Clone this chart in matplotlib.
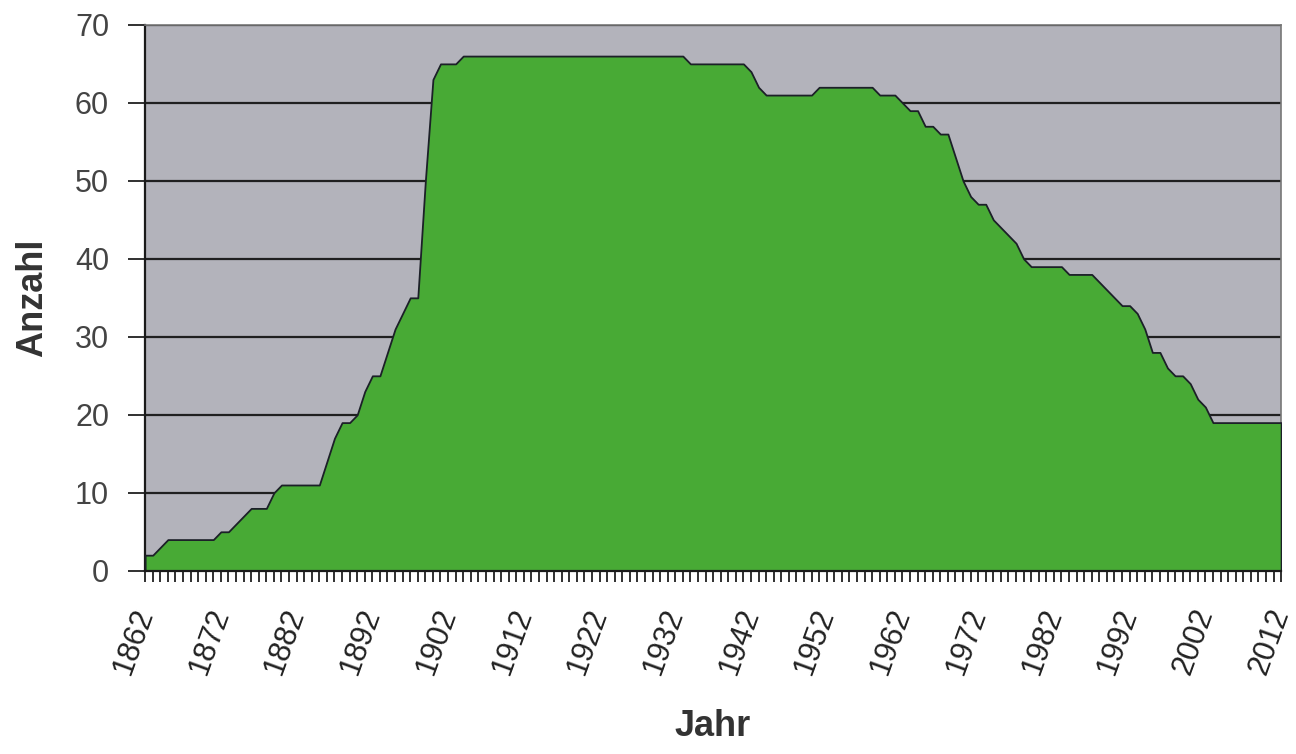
import numpy as np
import matplotlib.pyplot as plt

plt.rcParams['font.family'] = ['Liberation Sans', 'DejaVu Sans']

# yearly counts 1862-2012
years = np.arange(1862, 2013)
counts = (
    [2, 2, 3, 4, 4, 4, 4, 4, 4, 4]            # 1862-1871
    + [5, 5, 6, 7, 8, 8, 8, 10, 11, 11]       # 1872-1881
    + [11, 11, 11, 11, 14, 17, 19, 19, 20, 23]  # 1882-1891
    + [25, 25, 28, 31, 33, 35, 35, 50, 63, 65]  # 1892-1901
    + [65, 65] + [66] * 30                    # 1902-1933
    + [65] * 8                                # 1934-1941
    + [64, 62] + [61] * 7                     # 1942-1950
    + [62] * 8                                # 1951-1958
    + [61, 61, 61, 60, 59, 59, 57, 57, 56, 56]  # 1959-1968
    + [53, 50, 48, 47, 47, 45, 44, 43, 42, 40]  # 1969-1978
    + [39] * 5 + [38] * 4                     # 1979-1987
    + [37, 36, 35, 34, 34, 33, 31, 28, 28, 26]  # 1988-1997
    + [25, 25, 24, 22, 21]                    # 1998-2002
    + [19] * 10                               # 2003-2012
)
counts = np.array(counts)
yticks = np.arange(0, 71, 10)
xlabels = np.arange(1862, 2013, 10)

fig = plt.figure(figsize=(12.96, 7.54), dpi=100)
ax = fig.add_axes([0.112, 0.243, 0.8765, 0.724])
ax.set_facecolor('#b3b3bb')

ax.fill_between(years, counts, 0, facecolor='#48aa35', edgecolor='#1c2028',
                linewidth=1.3, zorder=3)
for v in yticks[1:]:
    ax.axhline(v, color='#202020', linewidth=1.6, zorder=2)

ax.set_xlim(1862, 2012)
ax.set_ylim(0, 70)
ax.set_yticks(yticks)
ax.set_xticks(xlabels)
ax.set_xticklabels([str(x) for x in xlabels], rotation=70, ha='right',
                   va='center', rotation_mode='anchor')
ax.set_xticks(years, minor=True)
ax.tick_params(axis='x', which='both', direction='out', length=8, width=1.3,
               color='#202020', labelsize=22, pad=20)
ax.tick_params(axis='y', direction='out', length=12, width=1.3,
               color='#202020', labelsize=22, pad=14, labelcolor='#444444')
ax.tick_params(axis='x', labelcolor='#222222')

for s in ['left', 'bottom']:
    ax.spines[s].set_color('#1a1a1a')
    ax.spines[s].set_linewidth(1.6)
for s in ['top', 'right']:
    ax.spines[s].set_color('#777777')
    ax.spines[s].set_linewidth(1.2)
ax.spines['bottom'].set_zorder(5)

ax.set_ylabel('Anzahl', fontsize=26, fontweight='bold', color='#333333',
              labelpad=18)
ax.set_xlabel('Jahr', fontsize=26, fontweight='bold', color='#333333',
              labelpad=22)

fig.savefig('out.png', dpi=100)
